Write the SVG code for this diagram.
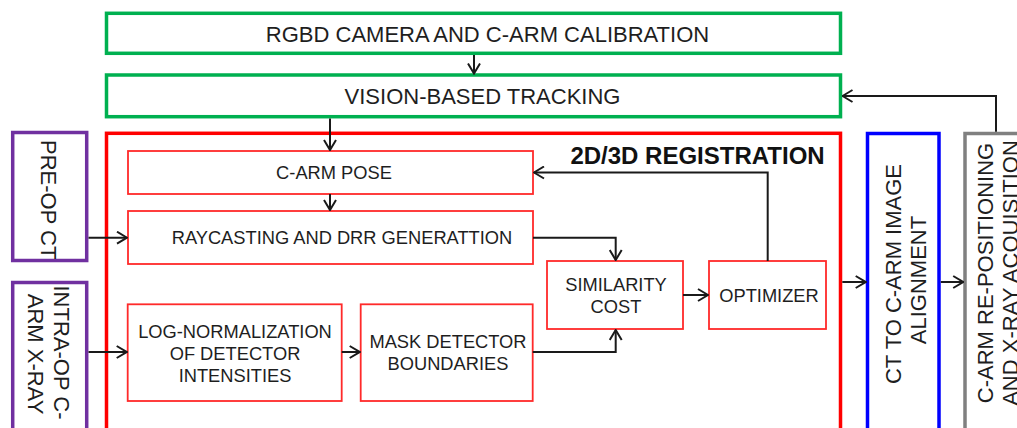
<svg xmlns="http://www.w3.org/2000/svg" width="1017" height="428" viewBox="0 0 1017 428">
  <defs>
    <style>
      text { font-family: "Liberation Sans", Arial, sans-serif; fill: #1e1e1e; }
      .big { font-size: 22px; }
      .small { font-size: 18.3px; }
      .title { font-size: 24px; font-weight: bold; fill: #111; }
      .mid { text-anchor: middle; }
      .green { fill: #fff; stroke: #00b050; stroke-width: 3.5; }
      .outer { fill: none; stroke: #ff0000; stroke-width: 3.5; }
      .inner { fill: #fff; stroke: #ff2a2a; stroke-width: 1.8; }
      .purple { fill: #fff; stroke: #7030a0; stroke-width: 3.5; }
      .blue { fill: #fff; stroke: #0000ff; stroke-width: 3.5; }
      .gray { fill: #fff; stroke: #808080; stroke-width: 3.5; }
      .link { fill: none; stroke: #1a1a1a; stroke-width: 2; marker-end: url(#arrow); }
    </style>
    <marker id="arrow" viewBox="0 0 12 14" refX="11" refY="7" markerWidth="12" markerHeight="14" markerUnits="userSpaceOnUse" orient="auto">
      <path d="M1,1 L11,7 L1,13" fill="none" stroke="#1a1a1a" stroke-width="2"/>
    </marker>
  </defs>

  <rect width="1017" height="428" fill="#fff"/>

  <!-- top-level blocks -->
  <g id="calibration">
    <rect class="green" x="106.5" y="13.3" width="734" height="40"/>
    <text class="big mid" x="487.5" y="41.5">RGBD CAMERA AND C-ARM CALIBRATION</text>
  </g>
  <g id="tracking">
    <rect class="green" x="106.5" y="75" width="734" height="41.7"/>
    <text class="big mid" x="482.5" y="104">VISION-BASED TRACKING</text>
  </g>

  <g id="registration">
    <rect class="outer" x="106.5" y="133.3" width="734" height="320"/>
    <text class="title mid" x="697.5" y="164">2D/3D REGISTRATION</text>
  </g>

  <g id="pre-op-ct">
    <rect class="purple" x="12.7" y="132.5" width="74" height="128"/>
    <text class="big" transform="translate(41,140) rotate(90)">PRE-OP CT</text>
  </g>
  <g id="intra-op-xray">
    <rect class="purple" x="12.7" y="282.5" width="74" height="170"/>
    <text class="big mid" transform="translate(54,352.5) rotate(90)">INTRA-OP C-</text>
    <text class="big mid" transform="translate(28,354) rotate(90)">ARM X-RAY</text>
  </g>

  <g id="alignment">
    <rect class="blue" x="867.5" y="133.5" width="71.5" height="320"/>
    <text class="big mid" transform="translate(901,274) rotate(-90)">CT TO C-ARM IMAGE</text>
    <text class="big mid" transform="translate(926,280) rotate(-90)">ALIGNMENT</text>
  </g>

  <g id="repositioning">
    <rect class="gray" x="965" y="133.5" width="70" height="320"/>
    <text class="big mid" transform="translate(993,273) rotate(-90)">C-ARM RE-POSITIONING</text>
    <text class="big mid" transform="translate(1018,273) rotate(-90)">AND X-RAY ACQUISITION</text>
  </g>

  <!-- registration sub-steps -->
  <g id="carm-pose">
    <rect class="inner" x="128" y="151" width="405" height="43"/>
    <text class="small mid" x="334" y="179">C-ARM POSE</text>
  </g>
  <g id="raycasting">
    <rect class="inner" x="128" y="211" width="405" height="53"/>
    <text class="small mid" x="342" y="244">RAYCASTING AND DRR GENERATTION</text>
  </g>
  <g id="log-normalization">
    <rect class="inner" x="127.7" y="304.3" width="214" height="96.7"/>
    <text class="small mid" x="235" y="338">LOG-NORMALIZATION</text>
    <text class="small mid" x="235" y="360">OF DETECTOR</text>
    <text class="small mid" x="235" y="382">INTENSITIES</text>
  </g>
  <g id="mask-boundaries">
    <rect class="inner" x="360.7" y="304.3" width="172" height="96.7"/>
    <text class="small mid" x="448" y="348">MASK DETECTOR</text>
    <text class="small mid" x="448" y="370">BOUNDARIES</text>
  </g>
  <g id="similarity">
    <rect class="inner" x="547" y="261" width="136" height="68"/>
    <text class="small mid" x="616" y="291">SIMILARITY</text>
    <text class="small mid" x="616" y="313">COST</text>
  </g>
  <g id="optimizer">
    <rect class="inner" x="709" y="261" width="117" height="68"/>
    <text class="small mid" x="769" y="302">OPTIMIZER</text>
  </g>

  <!-- connectors -->
  <g id="connectors">
    <path class="link" d="M474,55 V73.5"/>
    <path class="link" d="M330,118.5 V150"/>
    <path class="link" d="M330,194 V210"/>
    <path class="link" d="M88.5,237.7 H127"/>
    <path class="link" d="M88.5,352 H126.7"/>
    <path class="link" d="M341.7,352 H359.7"/>
    <path class="link" d="M533,237.7 H615.7 V260"/>
    <path class="link" d="M532.7,352 H615.7 V330"/>
    <path class="link" d="M683,295 H708"/>
    <path class="link" d="M767.7,261 V172.5 H534"/>
    <path class="link" d="M842.3,282 H865.7"/>
    <path class="link" d="M940.8,282 H963.2"/>
    <path class="link" d="M996,131.7 V96 H842.5"/>
  </g>
</svg>
